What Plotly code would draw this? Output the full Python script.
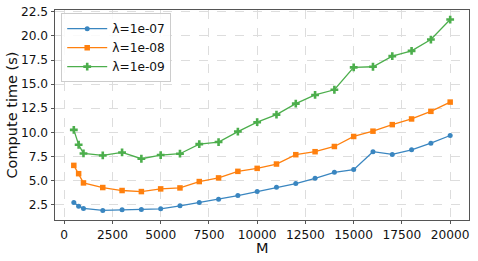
import plotly.graph_objects as go

M = [500, 750, 1000, 2000, 3000, 4000, 5000, 6000, 7000, 8000, 9000, 10000,
     11000, 12000, 13000, 14000, 15000, 16000, 17000, 18000, 19000, 20000]

t_1e07 = [2.70, 2.33, 2.09, 1.88, 1.95, 1.98, 2.05, 2.36, 2.70, 3.05, 3.43, 3.84,
          4.29, 4.67, 5.22, 5.84, 6.12, 7.98, 7.70, 8.18, 8.87, 9.66]
t_1e08 = [6.56, 5.70, 4.74, 4.26, 3.95, 3.84, 4.12, 4.22, 4.88, 5.26, 5.94, 6.25,
          6.70, 7.67, 7.98, 8.52, 9.56, 10.11, 10.79, 11.38, 12.17, 13.13]
t_1e09 = [10.25, 8.70, 7.80, 7.59, 7.90, 7.25, 7.63, 7.77, 8.77, 8.98, 10.07, 11.04,
          11.83, 12.97, 13.87, 14.41, 16.73, 16.80, 17.90, 18.45, 19.62, 21.70]

series = [
    ("λ=1e-07", t_1e07, "#3a86c0", "circle", 5),
    ("λ=1e-08", t_1e08, "#ff800e", "square", 5.5),
    ("λ=1e-09", t_1e09, "#4cae4c", "cross", 6.5),
]

xticks = [0, 2500, 5000, 7500, 10000, 12500, 15000, 17500, 20000]
yticks = [2.5, 5.0, 7.5, 10.0, 12.5, 15.0, 17.5, 20.0, 22.5]

fig = go.Figure()
for name, vals, color, sym, size in series:
    fig.add_trace(go.Scatter(
        x=M, y=vals, name=name, mode="lines+markers",
        line=dict(color=color, width=1.3),
        marker=dict(symbol=sym, size=size, color=color),
    ))

font = "DejaVu Sans, sans-serif"
axis_common = dict(
    showline=True, linecolor="#555555", linewidth=1, mirror=True,
    showgrid=True, gridcolor="#dddddd", griddash="dash", gridwidth=0.8,
    ticks="outside", tickcolor="#555555",
    tickfont=dict(family=font, size=12.2, color="#111111"),
    zeroline=False, automargin=False,
)

fig.update_layout(
    width=478, height=261,
    margin=dict(l=55, r=9, t=10, b=41),
    paper_bgcolor="white", plot_bgcolor="white",
    font=dict(family=font, color="#111111"),
    xaxis=dict(range=[-475, 20975], tickvals=xticks, ticklen=3,
               ticktext=[str(v) for v in xticks],
               **axis_common),
    yaxis=dict(range=[0.89, 22.69], tickvals=yticks, ticklen=3.5,
               ticktext=[f"{v:.1f}" for v in yticks],
               **axis_common),
    legend=dict(x=0.015, y=0.985, xanchor="left", yanchor="top",
                bgcolor="rgba(255,255,255,0.85)", bordercolor="#cccccc", borderwidth=1,
                font=dict(family=font, size=12.2), tracegroupgap=0,
                itemwidth=40),
    showlegend=True,
    annotations=[
        dict(text="M", xref="paper", yref="paper", x=0.5, y=-0.135,
             xanchor="center", yanchor="middle", showarrow=False,
             font=dict(family=font, size=14.5, color="#111111")),
        dict(text="Compute time (s)", xref="paper", yref="paper", x=-0.105, y=0.5,
             xanchor="center", yanchor="middle", textangle=-90, showarrow=False,
             font=dict(family=font, size=14.5, color="#111111")),
    ],
)

fig.write_html("out.html", config={"displayModeBar": False},
               post_script="document.body.style.margin='0';document.body.style.padding='0';")
